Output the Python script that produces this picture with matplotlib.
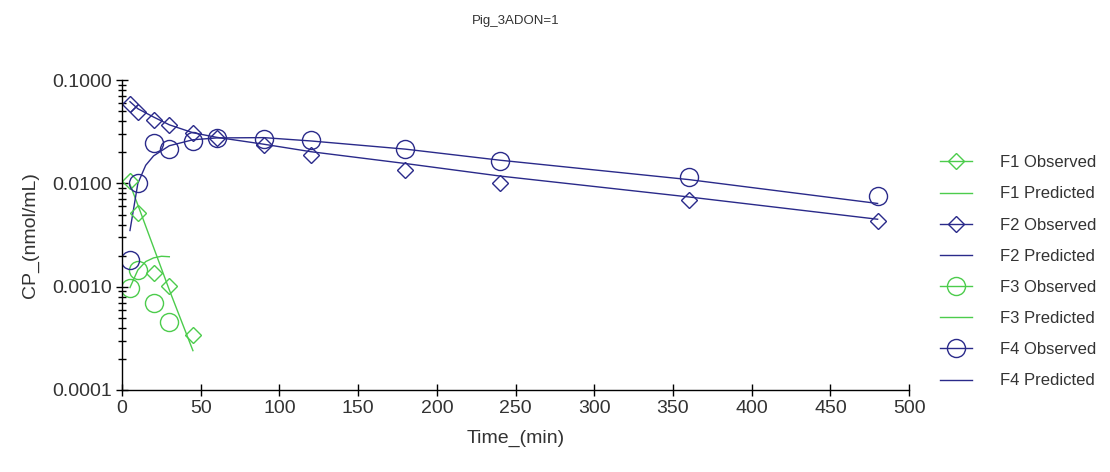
import matplotlib.pyplot as plt
from matplotlib.lines import Line2D
from matplotlib.ticker import LogLocator, FixedFormatter, FixedLocator, NullFormatter

plt.rcParams['font.family'] = ['Liberation Sans', 'DejaVu Sans']

title = "Pig_3ADON=1"

# observed data
f1_t = [5, 10, 20, 30, 45]
f1_obs = [0.0106, 0.0052, 0.00135, 0.00102, 0.00034]
f2_t = [5, 10, 20, 30, 45, 60, 90, 120, 180, 240, 360, 480]
f2_obs = [0.059, 0.049, 0.041, 0.037, 0.0305, 0.0273, 0.0234, 0.0188, 0.0135, 0.0100, 0.0069, 0.0043]
f3_t = [5, 10, 20, 30]
f3_obs = [0.00097, 0.00145, 0.00070, 0.00045]
f4_t = [5, 10, 20, 30, 45, 60, 90, 120, 180, 240, 360, 480]
f4_obs = [0.0018, 0.0102, 0.0244, 0.0214, 0.026, 0.0273, 0.0267, 0.0262, 0.0218, 0.0164, 0.0116, 0.0075]

# predicted curves
f1_pt = [5, 10, 20, 30, 45]
f1_pred = [0.0098, 0.0062, 0.0024, 0.00093, 0.00024]
f2_pt = [5, 10, 20, 30, 45, 60, 90, 120, 180, 240, 360, 480]
f2_pred = [0.062, 0.053, 0.044, 0.037, 0.031, 0.028, 0.024, 0.0203, 0.0156, 0.0118, 0.0074, 0.0045]
f3_pt = [5, 10, 15, 20, 25, 30]
f3_pred = [0.00098, 0.00145, 0.00175, 0.0019, 0.00197, 0.00195]
f4_pt = [5, 10, 15, 20, 30, 45, 60, 90, 120, 180, 240, 360, 480]
f4_pred = [0.0035, 0.0100, 0.0150, 0.0185, 0.0232, 0.0265, 0.0276, 0.0278, 0.0258, 0.0215, 0.0168, 0.0109, 0.0064]

green = '#4ccc4c'
navy = '#2a2a8a'
txt = '#333333'

fig = plt.figure(figsize=(11.1, 4.72), dpi=100)
ax = fig.add_axes([0.110, 0.174, 0.709, 0.656])

lw = 1.0
dia = dict(marker='D', ms=8.5, mfc='none', mew=1.0, linestyle='none')
cir = dict(marker='o', ms=13, mfc='none', mew=1.0, linestyle='none')

ax.plot(f1_pt, f1_pred, color=green, lw=lw)
ax.plot(f3_pt, f3_pred, color=green, lw=lw)
ax.plot(f2_pt, f2_pred, color=navy, lw=lw)
ax.plot(f4_pt, f4_pred, color=navy, lw=lw)
ax.plot(f1_t, f1_obs, color=green, **dia)
ax.plot(f3_t, f3_obs, color=green, **cir)
ax.plot(f2_t, f2_obs, color=navy, **dia)
ax.plot(f4_t, f4_obs, color=navy, **cir)

ax.set_yscale('log')
ax.set_xlim(0, 500)
ax.set_ylim(1e-4, 1e-1)
ax.set_xticks(range(0, 501, 50))
ax.yaxis.set_major_locator(FixedLocator([1e-4, 1e-3, 1e-2, 1e-1]))
ax.yaxis.set_major_formatter(FixedFormatter(['0.0001', '0.0010', '0.0100', '0.1000']))
ax.yaxis.set_minor_locator(LogLocator(base=10, subs=range(2, 10)))
ax.yaxis.set_minor_formatter(NullFormatter())

for s in ['top', 'right']:
    ax.spines[s].set_visible(False)
ax.spines['left'].set_linewidth(1.0)
ax.spines['bottom'].set_linewidth(1.0)
ax.tick_params(axis='both', which='major', direction='inout', length=9, width=1.0,
               labelsize=14, pad=3, labelcolor=txt)
ax.tick_params(axis='y', which='minor', direction='inout', length=6, width=1.0)

ax.set_xlabel('Time_(min)', fontsize=14, labelpad=9, color=txt)
ax.set_ylabel('CP_(nmol/mL)', fontsize=14, labelpad=9, color=txt)
fig.text(0.465, 0.955, title, ha='center', va='center', fontsize=9.5, color=txt)

handles = [
    Line2D([], [], color=green, lw=lw, marker='D', ms=8.5, mfc='none'),
    Line2D([], [], color=green, lw=lw),
    Line2D([], [], color=navy, lw=lw, marker='D', ms=8.5, mfc='none'),
    Line2D([], [], color=navy, lw=lw),
    Line2D([], [], color=green, lw=lw, marker='o', ms=13, mfc='none'),
    Line2D([], [], color=green, lw=lw),
    Line2D([], [], color=navy, lw=lw, marker='o', ms=13, mfc='none'),
    Line2D([], [], color=navy, lw=lw),
]
labels = ['F1 Observed', 'F1 Predicted', 'F2 Observed', 'F2 Predicted',
          'F3 Observed', 'F3 Predicted', 'F4 Observed', 'F4 Predicted']
leg = fig.legend(handles, labels, loc='center left', bbox_to_anchor=(0.841, 0.424),
                 borderaxespad=0, frameon=False, fontsize=12, handlelength=1.9,
                 labelspacing=0.97, handletextpad=1.7)
for t in leg.get_texts():
    t.set_color(txt)

fig.savefig('out.png', dpi=100)
